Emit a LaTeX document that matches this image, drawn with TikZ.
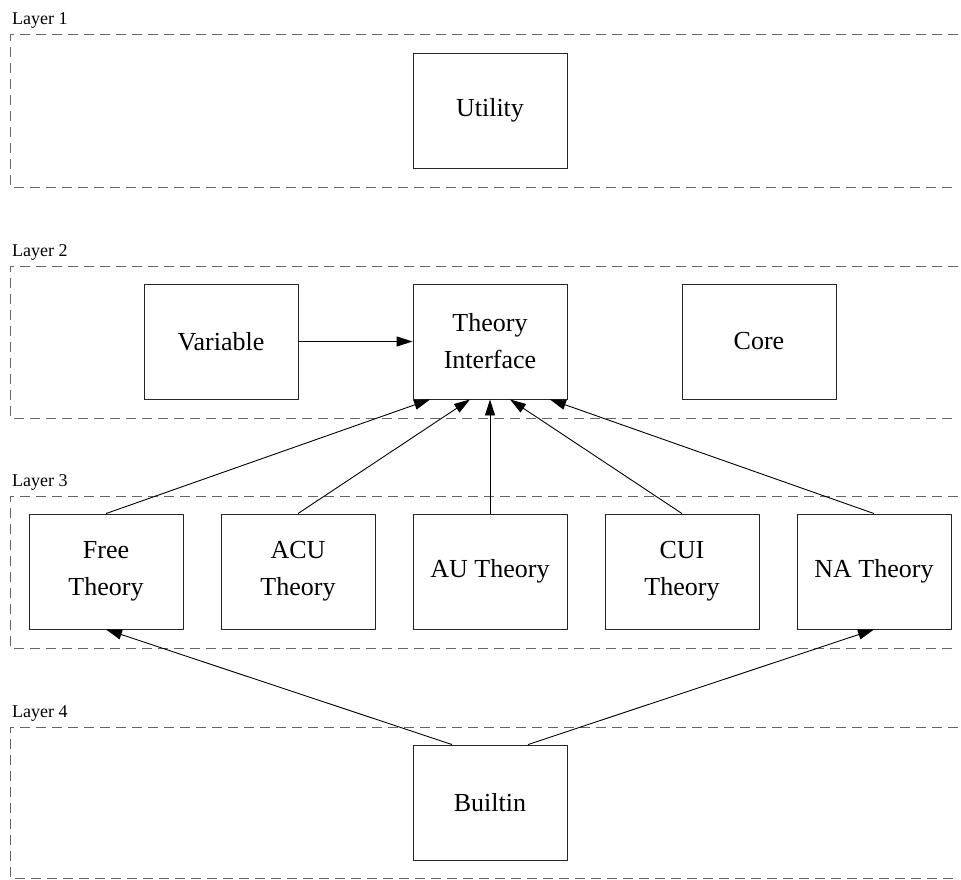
\documentclass[tikz,border=0pt]{standalone}
\usepackage{fontspec}
\setmainfont{Liberation Serif}
\usetikzlibrary{arrows.meta}
\begin{document}
\begin{tikzpicture}[x=1pt,y=-1pt,
  comp/.style={draw=black!85, line width=0.9pt, minimum width=154pt, minimum height=115pt, inner sep=0pt,
    align=center, font=\fontsize{26}{37}\selectfont},
  layerlabel/.style={anchor=base west, inner sep=0pt, font=\fontsize{18}{22}\selectfont},
  layerline/.style={draw=black!60, line width=1pt, dash pattern=on 10pt off 6pt},
  dep/.style={draw=black, line width=0.9pt, -{Triangle[length=16pt,width=10pt]}}]
\useasboundingbox (0,0) rectangle (961,880);
% layers
\foreach \t/\b/\n in {35/187/1, 266/418/2, 496/648/3, 727/878/4}{
  \node[layerlabel] (lab\n) at (12,\t-10) {Layer \n};
  \coordinate (tl\n) at (10,\t);
  \coordinate (tr\n) at (958,\t);
  \coordinate (bl\n) at (10,\b);
  \coordinate (br\n) at (958,\b);
  \draw[layerline] (tr\n) -- (tl\n) -- (bl\n) -- (br\n);
}
% nodes
\node[comp] (util) at (490,110.5) {Utility};
\node[comp] (var) at (221,341.5) {Variable};
\node[comp] (ti) at (490,341.5) {Theory\\Interface};
\node[comp] (core) at (759,341.5) {Core};
\node[comp] (free) at (106,571.5) {Free\\Theory};
\node[comp] (acu) at (298,571.5) {ACU\\Theory};
\node[comp] (au) at (490,571.5) {AU Theory};
\node[comp] (cui) at (682,571.5) {CUI\\Theory};
\node[comp] (na) at (874,571.5) {NA Theory};
\node[comp] (builtin) at (490,802.5) {Builtin};
% connectors
\draw[dep] (var.east) -- (ti.west);
\draw[dep] (free.north) -- ([xshift=-60pt]ti.south);
\draw[dep] (acu.north) -- ([xshift=-20pt]ti.south);
\draw[dep] (au.north) -- (ti.south);
\draw[dep] (cui.north) -- ([xshift=20pt]ti.south);
\draw[dep] (na.north) -- ([xshift=60pt]ti.south);
\draw[dep] ([xshift=-38pt]builtin.north) -- (free.south);
\draw[dep] ([xshift=38pt]builtin.north) -- (na.south);
\end{tikzpicture}
\end{document}
